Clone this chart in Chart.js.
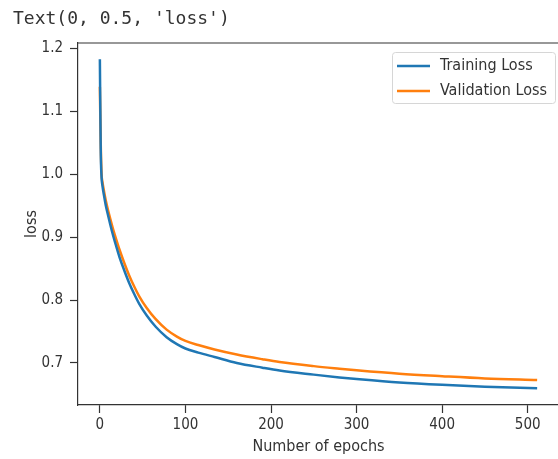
<!DOCTYPE html>
<html>
<head>
<meta charset="utf-8">
<script src="https://cdn.jsdelivr.net/npm/chart.js@4"></script>
<style>
  html, body { margin: 0; padding: 0; background: #fff; overflow: hidden; width: 558px; height: 459px; }
  #cap { position: absolute; left: 13px; top: 7px; font: 18px 'DejaVu Sans Mono', monospace; line-height: 21px; color: #333; white-space: pre; }
  #wrap { position: absolute; left: 0; top: 0; }
</style>
</head>
<body>
<div id="wrap"><canvas id="c" width="562" height="459"></canvas></div>
<div id="cap">Text(0, 0.5, 'loss')</div>
<script>
// values
const epochs = [0, 1, 2, 3, 5, 7, 9, 12, 15, 19, 23, 28, 34, 40, 46, 55, 65, 78, 90, 100,
  115, 134, 160, 190, 210, 250, 280, 300, 350, 400, 450, 511];
const trainLoss = [1.183, 1.04, 0.995, 0.982, 0.965, 0.950, 0.938, 0.921, 0.905, 0.886, 0.868,
  0.849, 0.828, 0.810, 0.794, 0.775, 0.758, 0.741, 0.730, 0.723,
  0.7165, 0.7095, 0.700, 0.6925, 0.688, 0.6815, 0.677, 0.6745, 0.669, 0.6652, 0.6623, 0.660];
const valLoss = [1.139, 1.05, 1.00, 0.988, 0.972, 0.958, 0.946, 0.930, 0.915, 0.897, 0.880,
  0.861, 0.840, 0.822, 0.806, 0.787, 0.770, 0.753, 0.742, 0.735,
  0.7285, 0.7215, 0.7135, 0.706, 0.7015, 0.695, 0.691, 0.6885, 0.683, 0.679, 0.6755, 0.673];
const xTicks = [0, 100, 200, 300, 400, 500];
const yTicks = [0.7, 0.8, 0.9, 1.0, 1.1, 1.2];

const plotFont = "'DejaVu Sans Condensed', 'DejaVu Sans', sans-serif";
const ink = '#333';

function toPoints(ys) {
  return epochs.map((e, i) => ({ x: e, y: ys[i] }));
}

// top/right spines and a matplotlib style legend box
const frame = {
  id: 'frame',
  afterDraw(chart) {
    const { ctx, chartArea: a } = chart;
    ctx.save();
    ctx.strokeStyle = ink;
    ctx.lineWidth = 1.2;
    ctx.beginPath();
    ctx.moveTo(a.left, a.top);
    ctx.lineTo(a.right, a.top);
    ctx.lineTo(a.right, a.bottom);
    ctx.stroke();

    const w = 163, h = 51;
    const bx = a.right - 4 - w, by = a.top + 9;
    ctx.beginPath();
    ctx.roundRect(bx + 0.5, by + 0.5, w, h, 3);
    ctx.fillStyle = 'rgba(255,255,255,0.8)';
    ctx.fill();
    ctx.strokeStyle = '#d6d6d6';
    ctx.lineWidth = 1;
    ctx.stroke();

    ctx.font = '16px ' + plotFont;
    ctx.textBaseline = 'middle';
    chart.data.datasets.forEach((ds, i) => {
      const ry = by + 14 + i * 25;
      ctx.strokeStyle = ds.borderColor;
      ctx.lineWidth = 2.5;
      ctx.beginPath();
      ctx.moveTo(bx + 5, ry);
      ctx.lineTo(bx + 38, ry);
      ctx.stroke();
      ctx.fillStyle = ink;
      ctx.fillText(ds.label, bx + 48, ry);
    });
    ctx.restore();
  }
};

const chart = new Chart(document.getElementById('c'), {
  type: 'line',
  data: {
    datasets: [
      {
        label: 'Training Loss',
        data: toPoints(trainLoss),
        borderColor: '#1f77b4',
        borderWidth: 2.5,
        pointRadius: 0,
        cubicInterpolationMode: 'monotone',
      },
      {
        label: 'Validation Loss',
        data: toPoints(valLoss),
        borderColor: '#ff7f0e',
        borderWidth: 2.5,
        pointRadius: 0,
        cubicInterpolationMode: 'monotone',
      },
    ],
  },
  options: {
    responsive: false,
    animation: false,
    devicePixelRatio: 1,
    layout: { padding: { top: 43, right: 3, left: 0, bottom: 0 } },
    scales: {
      x: {
        type: 'linear',
        min: -25.55,
        max: 536.55,
        afterFit: s => { s.height = 54; },
        afterBuildTicks: s => { s.ticks = xTicks.map(v => ({ value: v })); },
        ticks: {
          font: { family: plotFont, size: 15 },
          color: ink,
          padding: 3,
          maxRotation: 0,
        },
        grid: {
          drawOnChartArea: false,
          tickLength: 8,
          tickColor: ink,
          tickWidth: 1.2,
        },
        border: { color: ink, width: 1.2 },
        title: {
          display: true,
          text: 'Number of epochs',
          font: { family: plotFont, size: 16 },
          color: ink,
          padding: { top: 0, bottom: 3 },
        },
      },
      y: {
        min: 0.6332,
        max: 1.2087,
        afterFit: s => { s.width = 78; },
        afterBuildTicks: s => { s.ticks = yTicks.map(v => ({ value: v })); },
        ticks: {
          font: { family: plotFont, size: 15 },
          color: ink,
          padding: 7,
          callback: v => v.toFixed(1),
        },
        grid: {
          drawOnChartArea: false,
          tickLength: 8,
          tickColor: ink,
          tickWidth: 1.2,
        },
        border: { color: ink, width: 1.2 },
        title: {
          display: true,
          text: 'loss',
          font: { family: plotFont, size: 16 },
          color: ink,
          padding: { top: 22, bottom: 0 },
        },
      },
    },
    plugins: {
      legend: { display: false },
      tooltip: { enabled: false },
    },
  },
  plugins: [frame],
});
</script>
</body>
</html>
